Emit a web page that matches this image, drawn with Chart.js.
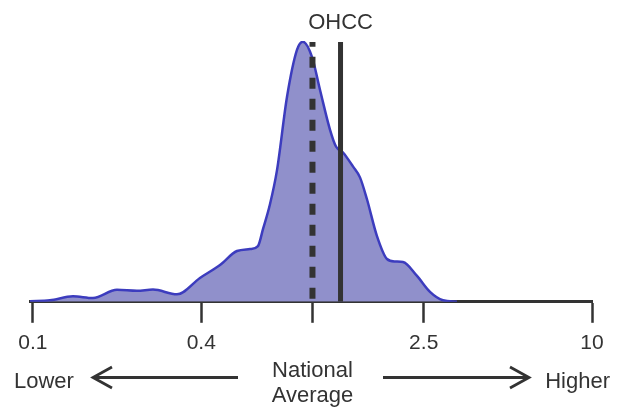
<!DOCTYPE html>
<html><head><meta charset="utf-8">
<script src="https://cdn.jsdelivr.net/npm/chart.js@4"></script>
<style>html,body{margin:0;padding:0;background:#fff}canvas{display:block}</style>
</head><body>
<canvas id="c" width="625" height="408"></canvas>
<script>
// ---- data ----
const ratioValues = [0.0976, 0.1150, 0.1390, 0.1640, 0.1998, 0.2356, 0.2688, 0.3275, 0.3958, 0.4669,
  0.5369, 0.5976, 0.6383, 0.6652, 0.7046, 0.7464, 0.8109, 0.8801, 0.9247, 0.9959,
  1.0637, 1.1550, 1.2137, 1.2857, 1.3959, 1.4789, 1.5666, 1.7012, 1.8475, 1.9730,
  2.1078, 2.3657, 2.6329, 2.9302, 3.2885];
const densityValues = [0.5, 1.5, 5.5, 3.8, 12, 11, 12.3, 7.5, 24, 37,
  51, 53, 56, 73, 98, 132, 206, 253, 261.3, 246,
  213, 173, 156, 150, 136, 125, 103, 66, 43, 40.5,
  40, 26, 10, 1.5, 0];
const tickValues = [0.1, 0.4, 1, 2.5, 10];
const tickLabels = ['0.1', '0.4', '', '2.5', '10'];
const nationalAverage = 1;
const ohccValue = 1.26;
const ohccLabel = 'OHCC';
const refLineTop = 261;
const axisMin = 0.0976;
const axisMax = 10;
const densityMax = 262;
const lowerLabel = 'Lower';
const higherLabel = 'Higher';
const centerLabels = ['National', 'Average'];

const FONT = "'Liberation Sans', Arial, Helvetica, sans-serif";
const DARK = '#333333';

const densityData = ratioValues.map((v, i) => ({x: v, y: densityValues[i]}));

const annotations = {
  id: 'annotations',
  afterDraw(chart) {
    const ctx = chart.ctx;
    const xs = chart.scales.x;
    ctx.save();
    ctx.fillStyle = DARK;
    ctx.textBaseline = 'alphabetic';
    ctx.font = '22px ' + FONT;
    ctx.textAlign = 'center';
    ctx.fillText(ohccLabel, xs.getPixelForValue(ohccValue), 28.5);
    const cx = xs.getPixelForValue(nationalAverage);
    ctx.fillText(centerLabels[0], cx, 377);
    ctx.fillText(centerLabels[1], cx, 402);
    ctx.textAlign = 'left';
    ctx.fillText(lowerLabel, 14, 387.5);
    ctx.textAlign = 'right';
    ctx.fillText(higherLabel, 610, 387.5);
    ctx.strokeStyle = DARK;
    ctx.lineWidth = 2.8;
    ctx.lineCap = 'butt';
    ctx.lineJoin = 'miter';
    const ay = 377.5;
    ctx.beginPath();
    ctx.moveTo(238, ay); ctx.lineTo(93, ay);
    ctx.moveTo(112, ay - 10.5); ctx.lineTo(93, ay); ctx.lineTo(112, ay + 10.5);
    ctx.moveTo(383, ay); ctx.lineTo(529, ay);
    ctx.moveTo(510, ay - 10.5); ctx.lineTo(529, ay); ctx.lineTo(510, ay + 10.5);
    ctx.stroke();
    ctx.restore();
  }
};

new Chart(document.getElementById('c'), {
  type: 'line',
  data: {
    datasets: [
      {
        label: 'National average',
        data: [{x: nationalAverage, y: 0}, {x: nationalAverage, y: refLineTop}],
        borderColor: DARK,
        borderWidth: 6,
        borderDash: [11, 10],
        borderDashOffset: 18,
        pointRadius: 0,
        fill: false,
        order: 1
      },
      {
        label: ohccLabel,
        data: [{x: ohccValue, y: 0}, {x: ohccValue, y: refLineTop}],
        borderColor: DARK,
        borderWidth: 5,
        pointRadius: 0,
        fill: false,
        order: 1
      },
      {
        label: 'Density',
        data: densityData,
        borderColor: '#3c3cbe',
        backgroundColor: '#9090cb',
        borderWidth: 2.5,
        pointRadius: 0,
        fill: 'origin',
        cubicInterpolationMode: 'monotone',
        order: 3
      }
    ]
  },
  options: {
    responsive: false,
    animation: false,
    devicePixelRatio: 1,
    layout: {padding: {left: 30, right: 33, top: 41, bottom: 44}},
    plugins: {legend: {display: false}, tooltip: {enabled: false}},
    scales: {
      x: {
        type: 'logarithmic',
        min: axisMin,
        max: axisMax,
        afterBuildTicks(scale) { scale.ticks = tickValues.map(v => ({value: v})); },
        border: {display: true, color: DARK, width: 3},
        grid: {display: true, drawOnChartArea: false, drawTicks: true, tickLength: 21, tickWidth: 2.5, tickColor: DARK},
        ticks: {
          autoSkip: false, maxRotation: 0, minRotation: 0, padding: 8,
          color: DARK, font: {family: FONT, size: 21},
          callback(value, index) { return tickLabels[index]; }
        }
      },
      y: {display: false, min: 0, max: densityMax}
    }
  },
  plugins: [annotations]
});
</script>
</body></html>
